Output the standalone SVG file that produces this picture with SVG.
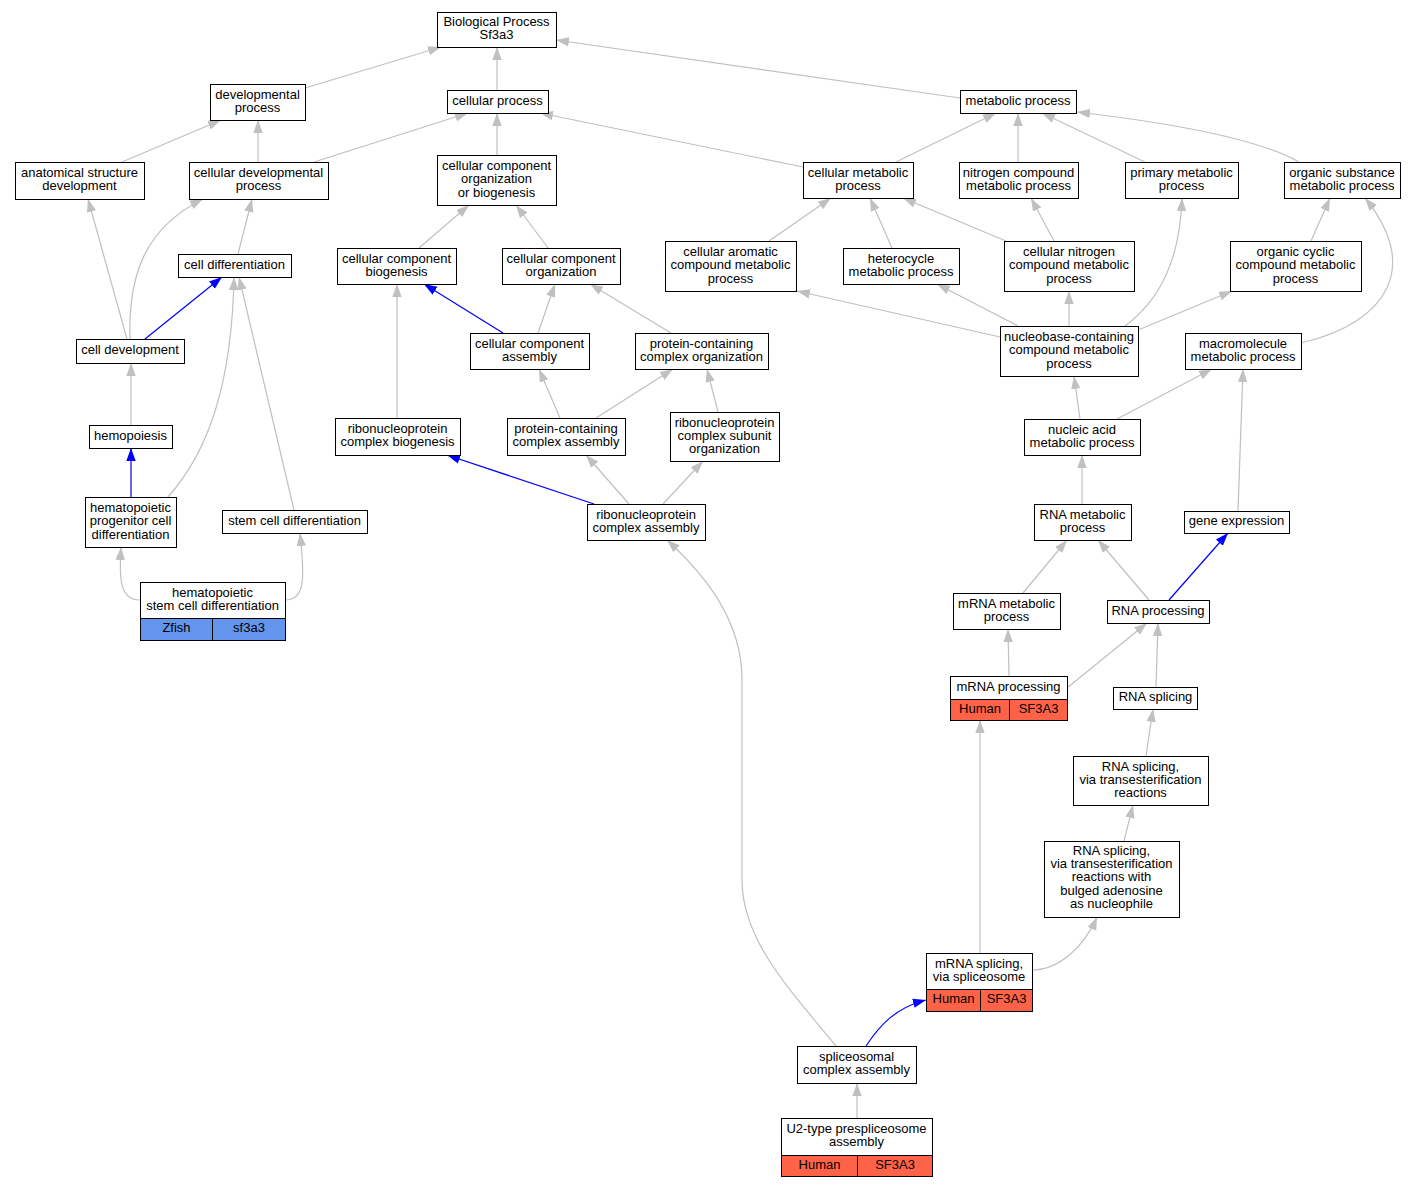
<svg xmlns="http://www.w3.org/2000/svg" width="1415" height="1187" viewBox="0 0 1415 1187">
<style>
.n rect{fill:#fff;stroke:#000;stroke-width:1}
.n rect.z{fill:#6495ED}
.n rect.h{fill:#FF6347}
text{font-family:"Liberation Sans",Arial,sans-serif;font-size:13px;text-anchor:middle;fill:#000}
.e path{fill:none;stroke:#c0c0c0;stroke-width:1.2;marker-end:url(#ag)}
.e path.b{stroke:#0000ff;marker-end:url(#ab)}
</style>
<defs>
<marker id="ag" markerUnits="userSpaceOnUse" markerWidth="13" markerHeight="10" viewBox="0 0 13 10" refX="13" refY="5" orient="auto"><path d="M0,0.3 L13,5 L0,9.7z" fill="#c0c0c0"/></marker>
<marker id="ab" markerUnits="userSpaceOnUse" markerWidth="13" markerHeight="10" viewBox="0 0 13 10" refX="13" refY="5" orient="auto"><path d="M0,0.3 L13,5 L0,9.7z" fill="#0000ff"/></marker>
</defs>
<rect width="1415" height="1187" fill="#fff"/>
<g id="connectors" class="e">
<path d="M305,88 L441,47"/>
<path d="M497,90 L497,47"/>
<path d="M960,98 L556,40"/>
<path d="M122,162 L221,120"/>
<path d="M258,162 L258,120"/>
<path d="M314,162 L468,113"/>
<path d="M497,155 L497,113"/>
<path d="M803,167 L540,113"/>
<path d="M896,162 L996,113"/>
<path d="M1018,162 L1018,113"/>
<path d="M1145,162 L1042,113"/>
<path d="M1299,162 C1260,140 1180,124 1077,112"/>
<path d="M238,254 L252,199"/>
<path d="M130,339 C128,275 145,228 203,199"/>
<path d="M127,339 L88,199"/>
<path class="b" d="M145,339 L222,277"/>
<path d="M131,425 L131,363"/>
<path class="b" d="M131,497 L131,448"/>
<path d="M168,497 C210,450 232,380 234,277"/>
<path d="M294,510 L239,277"/>
<path d="M140,600 C120,600 119,580 121,547"/>
<path d="M285,600 C305,600 305,580 300,533"/>
<path d="M419,248 L469,205"/>
<path d="M548,248 L516,205"/>
<path class="b" d="M503,333 L424,284"/>
<path d="M538,333 L555,284"/>
<path d="M671,333 L590,284"/>
<path d="M397,418 L397,284"/>
<path d="M560,418 L539,369"/>
<path d="M596,418 L673,369"/>
<path d="M718,412 L707,369"/>
<path class="b" d="M594,504 L447,455"/>
<path d="M629,504 L586,455"/>
<path d="M663,504 L703,461"/>
<path d="M836,1046 C790,990 742,940 742,880 L742,680 C742,620 705,575 667,540"/>
<path class="b" d="M866,1046 C880,1025 895,1008 926,1000"/>
<path d="M857,1118 L857,1083"/>
<path d="M980,953 L980,720"/>
<path d="M1032,970 C1060,970 1085,945 1097,917"/>
<path d="M1124,841 L1133,805"/>
<path d="M1146,756 L1153,709"/>
<path d="M1156,687 L1158,623"/>
<path d="M1067,688 L1147,623"/>
<path d="M1009,676 L1008,629"/>
<path d="M1023,593 L1067,540"/>
<path d="M1149,600 L1098,540"/>
<path class="b" d="M1169,600 L1228,533"/>
<path d="M1082,504 L1082,455"/>
<path d="M1238,511 L1243,369"/>
<path d="M1080,419 L1074,376"/>
<path d="M1117,419 L1212,369"/>
<path d="M1000,337 L797,291"/>
<path d="M1018,326 L937,284"/>
<path d="M1069,326 L1069,291"/>
<path d="M1125,326 C1160,300 1180,260 1182,198"/>
<path d="M1138,330 L1232,291"/>
<path d="M1301,343 C1390,322 1420,265 1365,198"/>
<path d="M769,241 L831,198"/>
<path d="M892,248 L870,198"/>
<path d="M1006,241 L903,198"/>
<path d="M1054,241 L1031,198"/>
<path d="M1311,241 L1330,198"/>
</g>
<g id="bp" class="n"><rect x="437.5" y="12.5" width="119" height="35"/><text x="496.5" y="26.1">Biological Process</text><text x="496.5" y="39.4">Sf3a3</text></g>
<g id="dev" class="n"><rect x="210.5" y="84.5" width="95" height="36"/><text x="257.5" y="98.6">developmental</text><text x="257.5" y="111.9">process</text></g>
<g id="cp" class="n"><rect x="447.5" y="90.5" width="101" height="23"/><text x="497.5" y="104.8">cellular process</text></g>
<g id="mp" class="n"><rect x="960.5" y="90.5" width="116" height="23"/><text x="1018" y="104.8">metabolic process</text></g>
<g id="asd" class="n"><rect x="15.5" y="162.5" width="129" height="37"/><text x="79.5" y="177.1">anatomical structure</text><text x="79.5" y="190.4">development</text></g>
<g id="cdp" class="n"><rect x="189.5" y="162.5" width="139" height="37"/><text x="258.5" y="177.1">cellular developmental</text><text x="258.5" y="190.4">process</text></g>
<g id="ccob" class="n"><rect x="437.5" y="155.5" width="119" height="50"/><text x="496.5" y="170">cellular component</text><text x="496.5" y="183.3">organization</text><text x="496.5" y="196.6">or biogenesis</text></g>
<g id="cmp" class="n"><rect x="803.5" y="162.5" width="110" height="36"/><text x="858" y="176.6">cellular metabolic</text><text x="858" y="189.9">process</text></g>
<g id="ncmp" class="n"><rect x="959.5" y="162.5" width="119" height="36"/><text x="1018.5" y="176.6">nitrogen compound</text><text x="1018.5" y="189.9">metabolic process</text></g>
<g id="pmp" class="n"><rect x="1125.5" y="162.5" width="113" height="36"/><text x="1181.5" y="176.6">primary metabolic</text><text x="1181.5" y="189.9">process</text></g>
<g id="osmp" class="n"><rect x="1284.5" y="162.5" width="116" height="36"/><text x="1342" y="176.6">organic substance</text><text x="1342" y="189.9">metabolic process</text></g>
<g id="cd" class="n"><rect x="178.5" y="254.5" width="113" height="23"/><text x="234.5" y="268.8">cell differentiation</text></g>
<g id="ccb" class="n"><rect x="337.5" y="248.5" width="119" height="36"/><text x="396.5" y="262.6">cellular component</text><text x="396.5" y="275.9">biogenesis</text></g>
<g id="cco" class="n"><rect x="502.5" y="248.5" width="118" height="36"/><text x="561" y="262.6">cellular component</text><text x="561" y="275.9">organization</text></g>
<g id="cacmp" class="n"><rect x="665.5" y="241.5" width="131" height="50"/><text x="730.5" y="256">cellular aromatic</text><text x="730.5" y="269.3">compound metabolic</text><text x="730.5" y="282.6">process</text></g>
<g id="hmp" class="n"><rect x="843.5" y="248.5" width="116" height="36"/><text x="901" y="262.6">heterocycle</text><text x="901" y="275.9">metabolic process</text></g>
<g id="cncmp" class="n"><rect x="1004.5" y="241.5" width="130" height="50"/><text x="1069" y="256">cellular nitrogen</text><text x="1069" y="269.3">compound metabolic</text><text x="1069" y="282.6">process</text></g>
<g id="occmp" class="n"><rect x="1230.5" y="241.5" width="131" height="50"/><text x="1295.5" y="256">organic cyclic</text><text x="1295.5" y="269.3">compound metabolic</text><text x="1295.5" y="282.6">process</text></g>
<g id="cdev" class="n"><rect x="76.5" y="339.5" width="108" height="24"/><text x="130" y="354.3">cell development</text></g>
<g id="cca" class="n"><rect x="470.5" y="333.5" width="119" height="36"/><text x="529.5" y="347.6">cellular component</text><text x="529.5" y="360.9">assembly</text></g>
<g id="pcco" class="n"><rect x="635.5" y="333.5" width="133" height="36"/><text x="701.5" y="347.6">protein-containing</text><text x="701.5" y="360.9">complex organization</text></g>
<g id="nbcmp" class="n"><rect x="1000.5" y="326.5" width="138" height="50"/><text x="1069" y="341">nucleobase-containing</text><text x="1069" y="354.3">compound metabolic</text><text x="1069" y="367.6">process</text></g>
<g id="mmp" class="n"><rect x="1185.5" y="333.5" width="116" height="36"/><text x="1243" y="347.6">macromolecule</text><text x="1243" y="360.9">metabolic process</text></g>
<g id="hemo" class="n"><rect x="89.5" y="425.5" width="83" height="23"/><text x="130.5" y="439.8">hemopoiesis</text></g>
<g id="rnpcb" class="n"><rect x="335.5" y="418.5" width="125" height="37"/><text x="397.5" y="433.1">ribonucleoprotein</text><text x="397.5" y="446.4">complex biogenesis</text></g>
<g id="pcca" class="n"><rect x="507.5" y="418.5" width="118" height="37"/><text x="566" y="433.1">protein-containing</text><text x="566" y="446.4">complex assembly</text></g>
<g id="rnpcso" class="n"><rect x="670.5" y="412.5" width="109" height="49"/><text x="724.5" y="426.5">ribonucleoprotein</text><text x="724.5" y="439.8">complex subunit</text><text x="724.5" y="453.1">organization</text></g>
<g id="namp" class="n"><rect x="1024.5" y="419.5" width="116" height="36"/><text x="1082" y="433.6">nucleic acid</text><text x="1082" y="446.9">metabolic process</text></g>
<g id="hpcd" class="n"><rect x="85.5" y="497.5" width="91" height="50"/><text x="130.5" y="512">hematopoietic</text><text x="130.5" y="525.3">progenitor cell</text><text x="130.5" y="538.6">differentiation</text></g>
<g id="scd" class="n"><rect x="222.5" y="510.5" width="145" height="23"/><text x="294.5" y="524.8">stem cell differentiation</text></g>
<g id="rnpca" class="n"><rect x="587.5" y="504.5" width="118" height="36"/><text x="646" y="518.6">ribonucleoprotein</text><text x="646" y="531.9">complex assembly</text></g>
<g id="rmp" class="n"><rect x="1034.5" y="504.5" width="97" height="36"/><text x="1082.5" y="518.6">RNA metabolic</text><text x="1082.5" y="531.9">process</text></g>
<g id="ge" class="n"><rect x="1184.5" y="511.5" width="105" height="22"/><text x="1236.5" y="525.3">gene expression</text></g>
<g id="hscd" class="n"><rect x="140.5" y="582.5" width="145" height="36"/><text x="212.5" y="596.6">hematopoietic</text><text x="212.5" y="609.9">stem cell differentiation</text><rect class="z" x="140.5" y="618.5" width="72" height="22"/><rect class="z" x="212.5" y="618.5" width="73" height="22"/><text x="176.5" y="632.3">Zfish</text><text x="249" y="632.3">sf3a3</text></g>
<g id="mrmp" class="n"><rect x="953.5" y="593.5" width="107" height="36"/><text x="1006.5" y="607.6">mRNA metabolic</text><text x="1006.5" y="620.9">process</text></g>
<g id="rp" class="n"><rect x="1107.5" y="600.5" width="102" height="23"/><text x="1158" y="614.8">RNA processing</text></g>
<g id="mrp" class="n"><rect x="950.5" y="676.5" width="117" height="23"/><text x="1008.5" y="690.8">mRNA processing</text><rect class="h" x="950.5" y="699.5" width="59" height="21"/><rect class="h" x="1009.5" y="699.5" width="58" height="21"/><text x="980" y="712.8">Human</text><text x="1038.5" y="712.8">SF3A3</text></g>
<g id="rs" class="n"><rect x="1113.5" y="687.5" width="84" height="22"/><text x="1155.5" y="701.3">RNA splicing</text></g>
<g id="rst" class="n"><rect x="1073.5" y="756.5" width="135" height="49"/><text x="1140.5" y="770.5">RNA splicing,</text><text x="1140.5" y="783.8">via transesterification</text><text x="1140.5" y="797.1">reactions</text></g>
<g id="rsn" class="n"><rect x="1044.5" y="841.5" width="135" height="76"/><text x="1111.5" y="854.7">RNA splicing,</text><text x="1111.5" y="868">via transesterification</text><text x="1111.5" y="881.3">reactions with</text><text x="1111.5" y="894.6">bulged adenosine</text><text x="1111.5" y="907.9">as nucleophile</text></g>
<g id="mrs" class="n"><rect x="926.5" y="953.5" width="106" height="36"/><text x="979" y="967.6">mRNA splicing,</text><text x="979" y="980.9">via spliceosome</text><rect class="h" x="926.5" y="989.5" width="54" height="22"/><rect class="h" x="980.5" y="989.5" width="52" height="22"/><text x="953.5" y="1003.3">Human</text><text x="1006.5" y="1003.3">SF3A3</text></g>
<g id="sca" class="n"><rect x="797.5" y="1046.5" width="119" height="37"/><text x="856.5" y="1061.1">spliceosomal</text><text x="856.5" y="1074.4">complex assembly</text></g>
<g id="u2" class="n"><rect x="781.5" y="1118.5" width="151" height="37"/><text x="856.5" y="1133.1">U2-type prespliceosome</text><text x="856.5" y="1146.4">assembly</text><rect class="h" x="781.5" y="1155.5" width="76" height="21"/><rect class="h" x="857.5" y="1155.5" width="75" height="21"/><text x="819.5" y="1168.8">Human</text><text x="895" y="1168.8">SF3A3</text></g>
</svg>
